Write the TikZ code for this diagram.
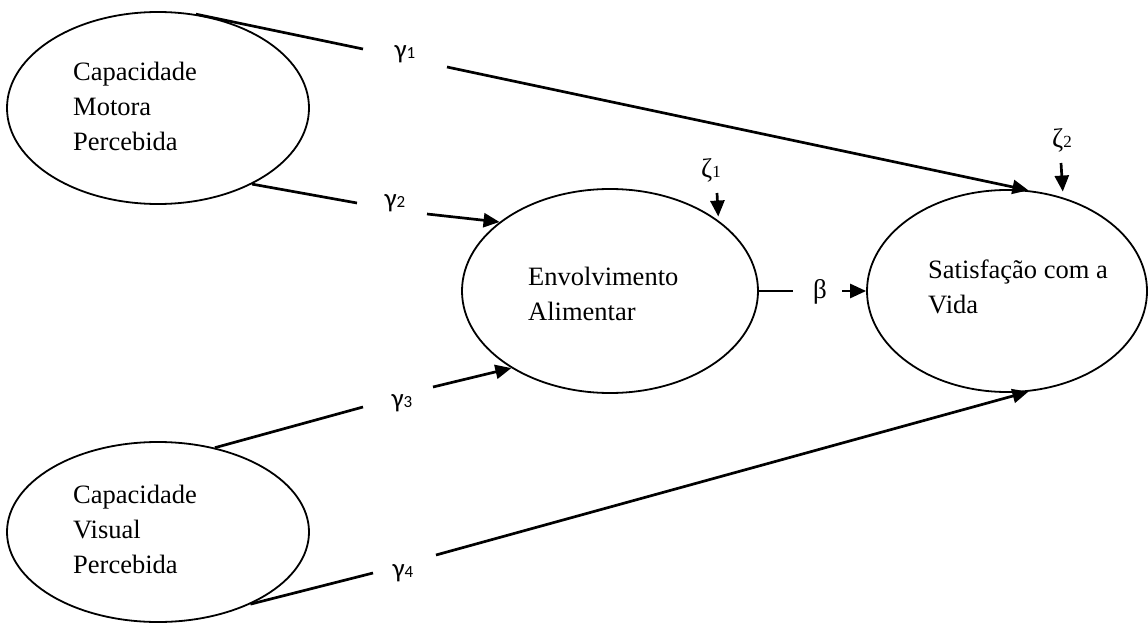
\documentclass[tikz,border=0pt]{standalone}
\usepackage{fontspec}
\setmainfont{Liberation Serif}
\newfontfamily\gfont{Carlito}
\usetikzlibrary{shapes.geometric,arrows.meta}
\begin{document}
\begin{tikzpicture}[x=1pt,y=-1pt,
  latent/.style={draw, ellipse, line width=1.8pt, inner sep=0pt},
  lbl/.style={anchor=base west, inner sep=0pt, font=\fontsize{26.5}{35}\selectfont},
  glab/.style={inner sep=0pt, font=\gfont\fontsize{27}{27}\selectfont},
  zlab/.style={inner sep=0pt, font=\fontsize{27}{27}\selectfont},
  conn/.style={line width=2.7pt},
  arr/.style={conn, -{Triangle[length=16pt,width=14pt]}},
]
\path[use as bounding box] (0,0) rectangle (1148,623);

% latent variables
\node[latent, minimum width=302pt, minimum height=192pt] (cmp) at (158,108) {};
\node[latent, minimum width=302pt, minimum height=180pt] (cvp) at (158,532) {};
\node[latent, minimum width=296pt, minimum height=204pt] (env) at (610,291) {};
\node[latent, minimum width=280pt, minimum height=202pt] (sv) at (1007,291) {};

% texts
\node[lbl] (cmp1) at (73,80.5) {Capacidade};
\node[lbl] (cmp2) at (73,115.5) {Motora};
\node[lbl] (cmp3) at (73,150.5) {Percebida};
\node[lbl] (cvp1) at (73,503) {Capacidade};
\node[lbl] (cvp2) at (73,538) {Visual};
\node[lbl] (cvp3) at (73,573) {Percebida};
\node[lbl] (env1) at (528,285) {Envolvimento};
\node[lbl] (env2) at (528,320) {Alimentar};
\node[lbl] (sv1) at (928,278) {Satisfação com a};
\node[lbl] (sv2) at (928,313) {Vida};

% path labels
\node[glab] (g1) at (405,54) {γ{\fontsize{17}{17}\selectfont 1}};
\node[glab] (g2) at (395,203) {γ{\fontsize{17}{17}\selectfont 2}};
\node[glab] (g3) at (402,403) {γ{\fontsize{17}{17}\selectfont 3}};
\node[glab] (g4) at (403,573) {γ{\fontsize{17}{17}\selectfont 4}};
\node[zlab] (b) at (820,292) {β};
\node[zlab] (z1) at (711,170) {ζ{\fontsize{17}{17}\selectfont 1}};
\node[zlab] (z2) at (1062,140) {ζ{\fontsize{17}{17}\selectfont 2}};

% connector break points
\coordinate (g1in) at (363,49);  \coordinate (g1out) at (447,67);
\coordinate (g2in) at (357,203); \coordinate (g2out) at (427,214);
\coordinate (g3in) at (363,407); \coordinate (g3out) at (433,387);
\coordinate (g4in) at (373,573); \coordinate (g4out) at (436,555);
\coordinate (bin) at (793,291);  \coordinate (bout) at (842,291);
\coordinate (z1a) at (717,193);  \coordinate (z2a) at (1061,163);

% connectors
\draw[conn] (cmp.68.3) -- (g1in);
\draw[arr] (g1out) -- (sv.78.7);
\draw[conn] (cmp.-39.1) -- (g2in);
\draw[arr] (g2out) -- (env.148.6);
\draw[conn] (cvp.56.7) -- (g3in);
\draw[arr] (g3out) -- (env.-142.4);
\draw[conn] (cvp.-38.8) -- (g4in);
\draw[arr] (g4out) -- (sv.-78.7);
\draw[conn] (env.east) -- (bin);
\draw[arr] (bout) -- (sv.west);
\draw[arr, shorten >=4pt] (z1a) -- (env.33.4);
\draw[arr, shorten >=6pt] (z2a) -- (sv.59.9);
\end{tikzpicture}
\end{document}
